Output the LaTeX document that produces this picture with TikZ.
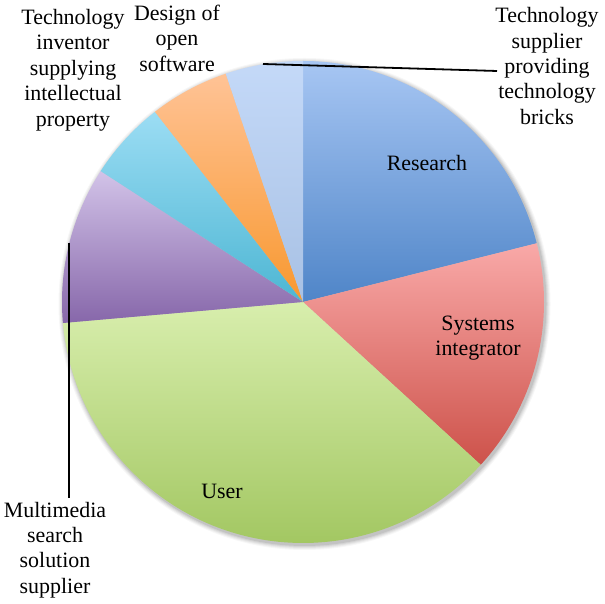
\documentclass[tikz,border=0pt]{standalone}
\usepackage{fontspec}
\setmainfont{Liberation Serif}
\begin{document}
\begin{tikzpicture}[x=1bp,y=1bp,
  lbl/.style={align=center,font=\fontsize{22}{25.5}\selectfont,inner sep=0pt},
  leader/.style={line width=1.8bp,black},
  slice/.style={draw=none}]
\useasboundingbox (0,0) rectangle (604,604);
\def\R{241}
\coordinate (O) at (303,302);
% soft shadow
\foreach \d/\o in {5/0.03,4/0.04,3/0.05,2/0.06,1/0.08}
  \fill[black,opacity=\o] (304.5,300) circle ({\R+\d});
% slices
\path[slice,top color={rgb,255:red,167;green,198;blue,243},bottom color={rgb,255:red,79;green,133;blue,200}]
  (O) -- ++(90:\R) arc[start angle=90,end angle=14.1,radius=\R] -- cycle;
\path[slice,top color={rgb,255:red,249;green,169;blue,168},bottom color={rgb,255:red,205;green,82;blue,74}]
  (O) -- ++(14.1:\R) arc[start angle=14.1,end angle=-42.5,radius=\R] -- cycle;
\path[slice,top color={rgb,255:red,216;green,238;blue,173},bottom color={rgb,255:red,157;green,195;blue,90}]
  (O) -- ++(-42.5:\R) arc[start angle=-42.5,end angle=-175,radius=\R] -- cycle;
\path[slice,top color={rgb,255:red,210;green,195;blue,232},bottom color={rgb,255:red,135;green,103;blue,170}]
  (O) -- ++(-175:\R) arc[start angle=-175,end angle=-212.9,radius=\R] -- cycle;
\path[slice,top color={rgb,255:red,156;green,221;blue,244},bottom color={rgb,255:red,77;green,182;blue,211}]
  (O) -- ++(-212.9:\R) arc[start angle=-212.9,end angle=-232.1,radius=\R] -- cycle;
\path[slice,top color={rgb,255:red,255;green,195;blue,150},bottom color={rgb,255:red,248;green,152;blue,47}]
  (O) -- ++(-232.1:\R) arc[start angle=-232.1,end angle=-251.3,radius=\R] -- cycle;
\path[slice,top color={rgb,255:red,196;green,217;blue,248},bottom color={rgb,255:red,168;green,193;blue,228}]
  (O) -- ++(-251.3:\R) arc[start angle=-251.3,end angle=-270,radius=\R] -- cycle;
% inner labels
\node[lbl] (research) at (427,441) {Research};
\node[lbl] (systems) at (478,266) {Systems\\integrator};
\node[lbl] (user) at (222,113) {User};
% outer labels
\node[lbl] (inventor) at (73,534) {Technology\\inventor\\supplying\\intellectual\\property};
\node[lbl] (design) at (177,566) {Design of\\open\\software};
\node[lbl] (supplier) at (547,538) {Technology\\supplier\\providing\\technology\\bricks};
\node[lbl] (multimedia) at (55,54) {Multimedia\\search\\solution\\supplier};
% leader lines
\coordinate (supA) at (263,540);
\coordinate (supB) at (497,533);
\draw[leader] (supA) -- (supB);
\coordinate (mmA) at (69,361);
\coordinate (mmB) at (69,106);
\draw[leader] (mmA) -- (mmB);
\end{tikzpicture}
\end{document}
